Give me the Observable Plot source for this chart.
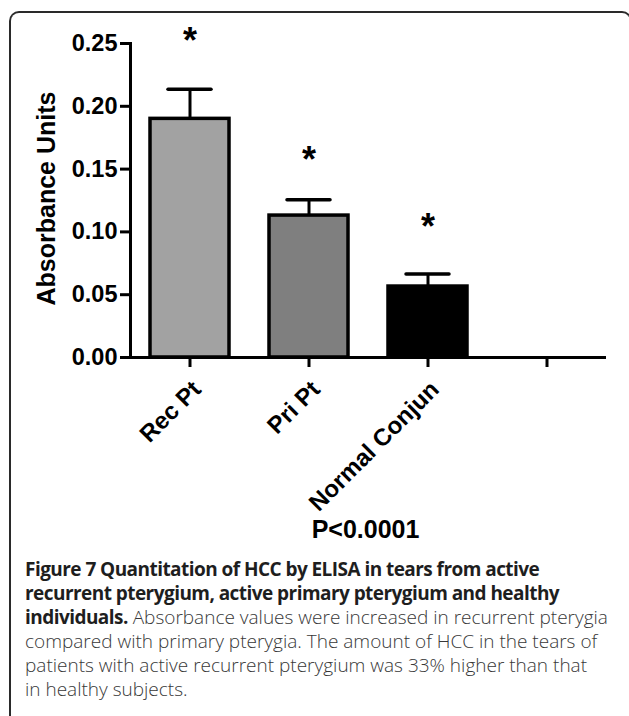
<!DOCTYPE html>
<html><head><meta charset="utf-8">
<script src="https://cdn.jsdelivr.net/npm/d3@7"></script>
<script src="https://cdn.jsdelivr.net/npm/@observablehq/plot@0.6"></script>
<style>
html,body{margin:0;padding:0;background:#fff;overflow:hidden;width:629px;height:716px;}
#chart{position:absolute;left:0;top:0;}
#frame{position:absolute;left:9px;top:11px;width:623px;height:720px;box-sizing:border-box;border:2px solid #2a2a2a;border-bottom:none;border-radius:10px 10px 0 0;pointer-events:none;}
#caption{position:absolute;left:25px;top:557px;font-family:"Open Sans",sans-serif;font-size:19px;line-height:24px;color:#383838;font-weight:300;white-space:nowrap;}
#caption b{font-weight:700;color:#1e1e1e;letter-spacing:-0.55px;}
</style></head><body>
<div id="chart"></div>
<div id="caption"><b>Figure 7 Quantitation of HCC by ELISA in tears from active</b><br><b>recurrent pterygium, active primary pterygium and healthy</b><br><b>individuals.</b> Absorbance values were increased in recurrent pterygia<br>compared with primary pterygia. The amount of HCC in the tears of<br>patients with active recurrent pterygium was 33% higher than that<br>in healthy subjects.</div>
<div id="frame"></div>
<script>
const categories = ["Rec Pt", "Pri Pt", "Normal Conjun", " "];
const means = [0.190, 0.113, 0.0565];
const sems = [0.0235, 0.0125, 0.010];
const fills = ["#a2a2a2", "#7f7f7f", "#000000"];
const starPositions = [0.2548, 0.1595, 0.1063];
const yTicks = [0, 0.05, 0.10, 0.15, 0.20, 0.25];
const yLabel = "Absorbance Units";
const xTitle = "P<0.0001";

const rows = means.map((m, i) => ({cat: categories[i], mean: m, top: m + sems[i], star: starPositions[i], fill: fills[i]}));

const chart = Plot.plot({
  width: 629, height: 560,
  marginLeft: 130, marginRight: 23, marginTop: 43, marginBottom: 203,
  style: {fontFamily: "'Liberation Sans', Arial, sans-serif", fontWeight: "bold", color: "#000", background: "transparent", overflow: "visible"},
  x: {type: "band", domain: categories, range: [109.3, 625.8], padding: 0.34},
  y: {domain: [0, 0.25]},
  color: {type: "identity"},
  marks: [
    Plot.barY(rows, {x: "cat", y: "mean", fill: "fill", stroke: "#000", strokeWidth: 3.5}),
    Plot.ruleX(rows, {x: "cat", y1: "mean", y2: "top", strokeWidth: 3}),
    Plot.tickY(rows, {x: "cat", y: "top", insetLeft: 18, insetRight: 18, strokeWidth: 3.5, strokeLinecap: "round"}),
    Plot.text(rows, {x: "cat", y: "star", text: () => "*", fontSize: 36, dy: 3.5}),
    Plot.ruleY([0], {strokeWidth: 3}),
    Plot.frame({anchor: "left", strokeWidth: 3}),
    Plot.axisY({ticks: yTicks, tickFormat: d3.format(".2f"), tickSize: 10, tickPadding: 3, strokeWidth: 3, fontSize: 23.5, label: null}),
    Plot.axisX({tickSize: 10, tickFormat: () => "", strokeWidth: 3, label: null}),
    Plot.text(categories, {x: d => d, text: d => d, frameAnchor: "bottom", rotate: -45, textAnchor: "end", lineAnchor: "middle", dx: 7, dy: 28, fontSize: 24}),
    Plot.text([yLabel], {text: d => d, frameAnchor: "left", rotate: -90, textAnchor: "middle", lineAnchor: "middle", dx: -84, dy: -2, fontSize: 25}),
    Plot.text([xTitle], {text: d => d, frameAnchor: "bottom", textAnchor: "middle", lineAnchor: "middle", dx: -3, dy: 172, fontSize: 25})
  ]
});
document.getElementById("chart").appendChild(chart);
</script>
</body></html>
